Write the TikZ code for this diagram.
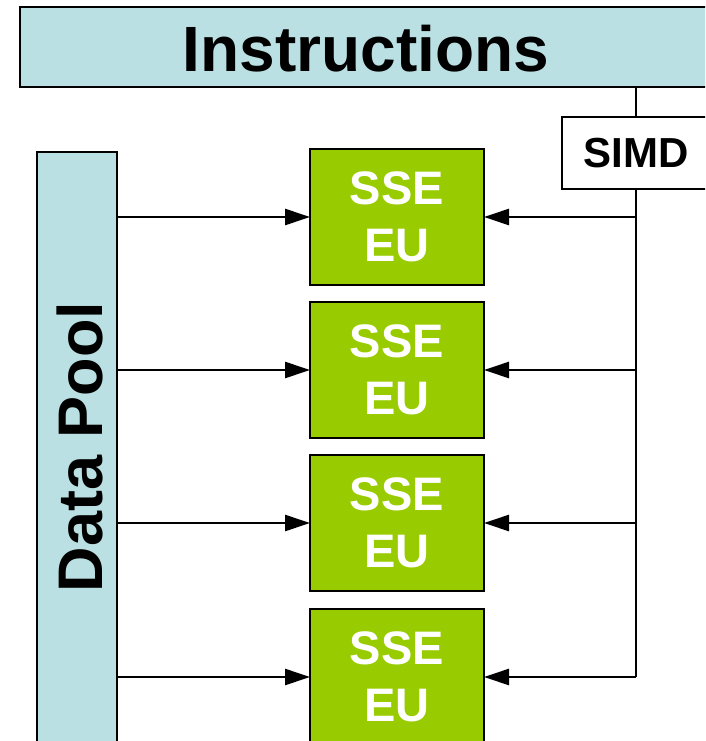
\documentclass[tikz,border=0pt]{standalone}
\usepackage{fontspec}
\setmainfont{Liberation Sans}
\usetikzlibrary{arrows.meta}
\definecolor{poolblue}{HTML}{BBE0E3}
\definecolor{ssegreen}{HTML}{99CC00}
\begin{document}
\begin{tikzpicture}[x=1pt,y=-1pt,
  box/.style={draw=black,line width=2pt,inner sep=0pt,outer sep=0pt},
  bluebox/.style={box,fill=poolblue},
  ssebox/.style={box,fill=ssegreen,minimum width=174pt,minimum height=136pt,
    text=white,align=center,font=\bfseries\fontsize{47}{57}\selectfont},
  wire/.style={line width=2.6pt,draw=black},
  arr/.style={wire,-{Triangle[length=25pt,width=16pt]}}]
\clip (0,0) rectangle (705,741);
\fill[white] (0,0) rectangle (705,741);
% Instructions bar
\node[bluebox,minimum width=692pt,minimum height=80pt] (instr) at (366,47) {};
\node[font=\bfseries\fontsize{64}{70}\selectfont] (instrtext) at (366,49) {Instructions};
% SIMD box
\node[box,fill=white,minimum width=148pt,minimum height=72pt,
  font=\bfseries\fontsize{42}{48}\selectfont] (simd) at (636,153) {SIMD};
% Data pool
\node[bluebox,minimum width=80pt,minimum height=592pt] (pool) at (77,448) {};
\node[rotate=90,font=\bfseries\fontsize{63}{70}\selectfont] (pooltext) at (80,447) {Data Pool};
% SSE units
\node[ssebox] (sse1) at (397,217) {SSE\\EU};
\node[ssebox] (sse2) at (397,370) {SSE\\EU};
\node[ssebox] (sse3) at (397,523) {SSE\\EU};
\node[ssebox] (sse4) at (397,677) {SSE\\EU};
% trunk
\coordinate (top) at (636,87);
\coordinate (j1) at (636,217);
\coordinate (j2) at (636,370);
\coordinate (j3) at (636,523);
\coordinate (j4) at (636,677);
\draw[wire] (top) -- (simd.north);
\draw[wire] (simd.south) -- (j4);
\foreach \i in {1,2,3,4}{
  \draw[arr] (j\i) -- (sse\i.east);
  \draw[arr] (pool.east |- sse\i) -- (sse\i.west);
}
\end{tikzpicture}
\end{document}
